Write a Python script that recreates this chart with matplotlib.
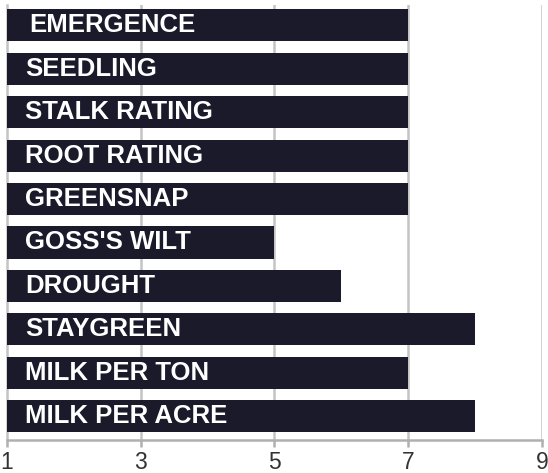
import matplotlib.pyplot as plt

traits = ["EMERGENCE", "SEEDLING", "STALK RATING", "ROOT RATING", "GREENSNAP",
          "GOSS'S WILT", "DROUGHT", "STAYGREEN", "MILK PER TON", "MILK PER ACRE"]
scores = [7, 7, 7, 7, 7, 5, 6, 8, 7, 8]
ticks = [1, 3, 5, 7, 9]

plt.rcParams['font.family'] = ['Liberation Sans', 'DejaVu Sans']

fig = plt.figure(figsize=(5.48, 4.73), dpi=100)
ax = fig.add_axes([0.0128, 0.0698, 0.9762, 0.9196])

base = 1
pos = list(range(len(traits)))
ax.barh(pos, [s - base for s in scores], left=base, height=0.74,
        color="#1b1a2b", zorder=3)
for i, t in enumerate(traits):
    ax.text(base + 0.27 if i else base + 0.33, i, t, color="white",
            fontweight="bold", fontsize=18.5, va="center", ha="left", zorder=4)

ax.set_xlim(1, 9)
ax.set_ylim(9.55, -0.47)
ax.set_xticks(ticks)
ax.set_xticklabels([str(t) for t in ticks], fontsize=16.5, color="#333333")
ax.set_yticks([])
for x in ticks[1:]:
    ax.axvline(x, color="#c4c4c4", lw=1.8, zorder=1)

for s in ["top", "right"]:
    ax.spines[s].set_visible(False)
ax.spines["left"].set_color("#c4c4c4")
ax.spines["left"].set_linewidth(1.8)
ax.spines["bottom"].set_color("#b0b0b0")
ax.spines["bottom"].set_linewidth(1.8)
ax.tick_params(axis="x", length=5, width=1.8, color="#b0b0b0", pad=3)

fig.savefig("out.png", dpi=100)
